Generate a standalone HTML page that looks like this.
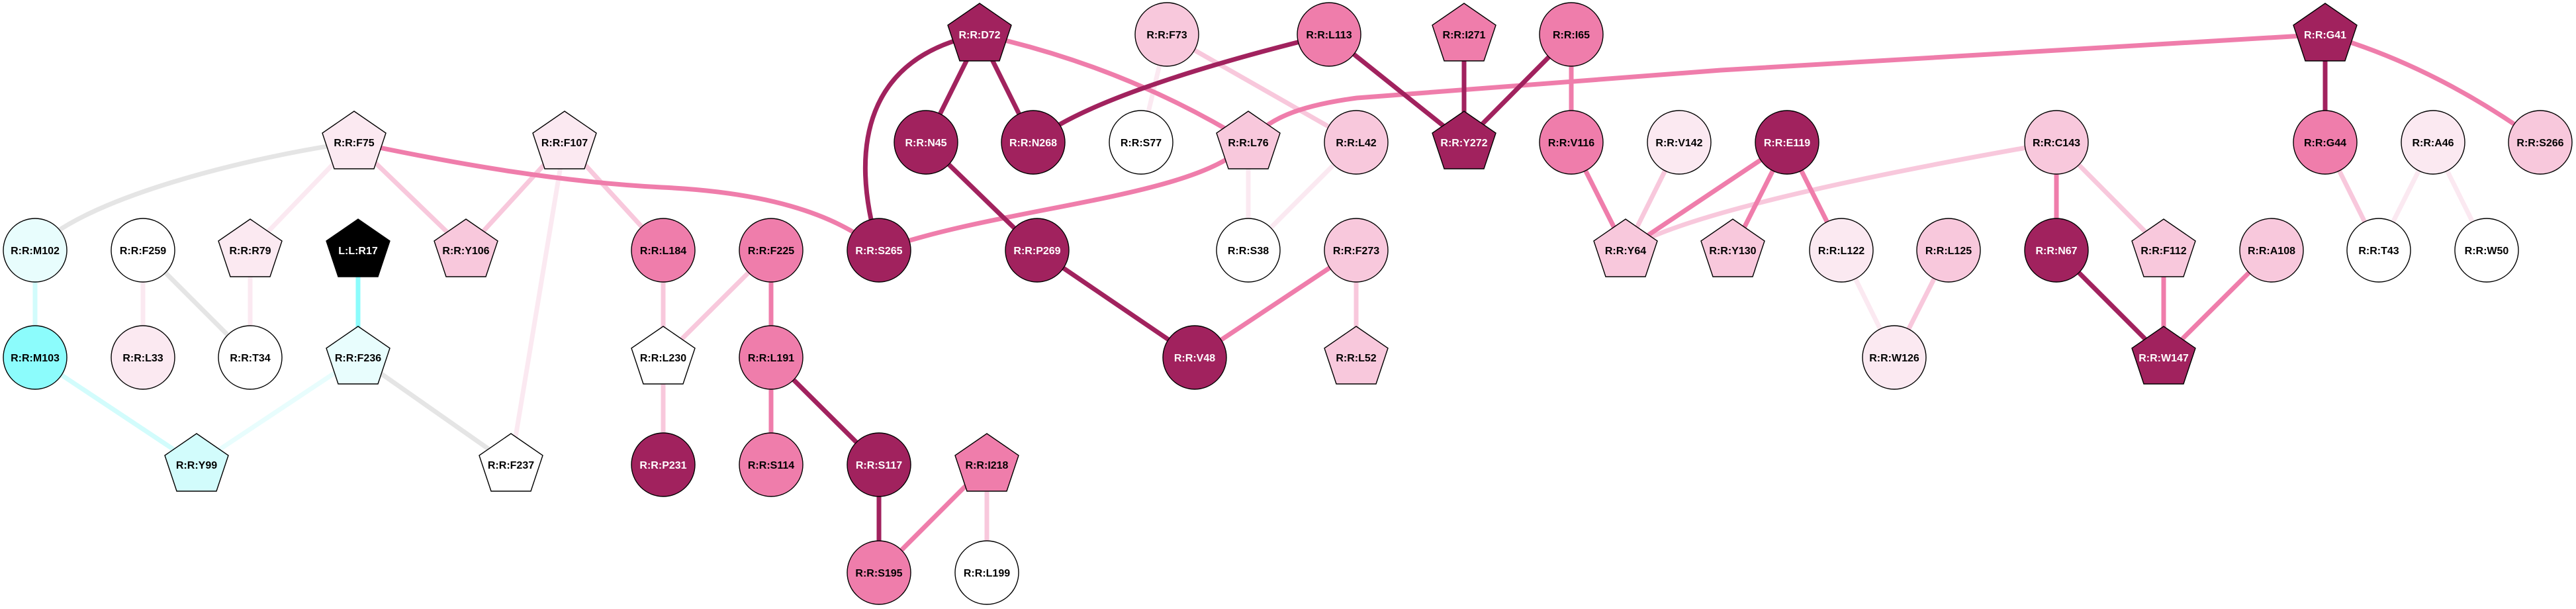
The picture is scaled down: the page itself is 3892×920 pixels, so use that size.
<!DOCTYPE html>
<html><head><meta charset="utf-8"><style>
html,body{margin:0;padding:0;background:#fff;}
svg{display:block;}
text{font-family:"Liberation Sans",Arial,sans-serif;font-weight:bold;font-size:16px;text-anchor:middle;}
</style></head><body>
<svg width="3892" height="920" viewBox="0 0 3892 920" xmlns="http://www.w3.org/2000/svg">
<defs>
<polygon id="pent" points="0,-47 48,-14 30,40 -30,40 -48,-14"/>
</defs>
<g fill="none" stroke-width="7">
<!-- grey -->
<path d="M535,215 C380,236 120,300 53,378" stroke="#e5e5e5"/>
<line x1="216" y1="378" x2="378" y2="540" stroke="#e5e5e5"/>
<line x1="541" y1="540" x2="772" y2="702" stroke="#e5e5e5"/>
<!-- cyan -->
<line x1="53" y1="378" x2="53" y2="540" stroke="#d2fcfc"/>
<line x1="541" y1="378" x2="541" y2="540" stroke="#8cfcfc"/>
<line x1="53" y1="540" x2="297" y2="702" stroke="#d2fcfc"/>
<line x1="541" y1="540" x2="297" y2="702" stroke="#e8fdfd"/>
<!-- very light pink -->
<line x1="535" y1="215" x2="378" y2="378" stroke="#fbe9f1"/>
<line x1="216" y1="378" x2="216" y2="540" stroke="#fbe9f1"/>
<line x1="378" y1="378" x2="378" y2="540" stroke="#fbe9f1"/>
<line x1="853" y1="215" x2="772" y2="702" stroke="#fbe9f1"/>
<line x1="1763" y1="52" x2="1724" y2="215" stroke="#fbe9f1"/>
<line x1="1886" y1="215" x2="1886" y2="378" stroke="#fbe9f1"/>
<line x1="1886" y1="378" x2="2049" y2="215" stroke="#fbe9f1"/>
<line x1="2782" y1="378" x2="2862" y2="540" stroke="#fbe9f1"/>
<line x1="3676" y1="215" x2="3594" y2="378" stroke="#fbe9f1"/>
<line x1="3676" y1="215" x2="3757" y2="378" stroke="#fbe9f1"/>
<!-- light pink -->
<line x1="535" y1="215" x2="704" y2="378" stroke="#f8c8dc"/>
<line x1="853" y1="215" x2="704" y2="378" stroke="#f8c8dc"/>
<line x1="853" y1="215" x2="1002" y2="378" stroke="#f8c8dc"/>
<line x1="1002" y1="378" x2="1002" y2="540" stroke="#f8c8dc"/>
<line x1="1165" y1="378" x2="1002" y2="540" stroke="#f8c8dc"/>
<line x1="1002" y1="540" x2="1002" y2="702" stroke="#f8c8dc"/>
<line x1="1491" y1="702" x2="1491" y2="865" stroke="#f8c8dc"/>
<line x1="1763" y1="52" x2="2049" y2="215" stroke="#f8c8dc"/>
<line x1="2049" y1="378" x2="2049" y2="540" stroke="#f8c8dc"/>
<line x1="2537" y1="215" x2="2456" y2="378" stroke="#f8c8dc"/>
<path d="M2456,378 Q2560,310 3107,215" stroke="#f8c8dc"/>
<line x1="2944" y1="378" x2="2862" y2="540" stroke="#f8c8dc"/>
<line x1="3107" y1="215" x2="3269" y2="378" stroke="#f8c8dc"/>
<line x1="3513" y1="215" x2="3594" y2="378" stroke="#f8c8dc"/>
<!-- medium pink -->
<path d="M535,215 C700,250 850,275 1000,283 C1150,290 1260,320 1328,378" stroke="#ef7dab"/>
<line x1="1165" y1="378" x2="1165" y2="540" stroke="#ef7dab"/>
<line x1="1165" y1="540" x2="1165" y2="702" stroke="#ef7dab"/>
<path d="M1480,52 Q1700,100 1886,215" stroke="#ef7dab"/>
<path d="M1886,215 C1810,300 1520,310 1328,378" stroke="#ef7dab"/>
<path d="M1886,215 C1915,180 1960,160 2050,148 L2600,106 L3513,52" stroke="#ef7dab"/>
<line x1="1805" y1="540" x2="2049" y2="378" stroke="#ef7dab"/>
<line x1="1491" y1="702" x2="1328" y2="865" stroke="#ef7dab"/>
<line x1="2374" y1="52" x2="2374" y2="215" stroke="#ef7dab"/>
<line x1="2374" y1="215" x2="2456" y2="378" stroke="#ef7dab"/>
<line x1="2456" y1="378" x2="2700" y2="215" stroke="#ef7dab"/>
<line x1="2700" y1="215" x2="2618" y2="378" stroke="#ef7dab"/>
<line x1="2700" y1="215" x2="2782" y2="378" stroke="#ef7dab"/>
<line x1="3107" y1="215" x2="3107" y2="378" stroke="#ef7dab"/>
<line x1="3269" y1="378" x2="3269" y2="540" stroke="#ef7dab"/>
<line x1="3432" y1="378" x2="3269" y2="540" stroke="#ef7dab"/>
<path d="M3513,52 Q3680,100 3838,215" stroke="#ef7dab"/>
<!-- dark -->
<line x1="1165" y1="540" x2="1328" y2="702" stroke="#a1225e"/>
<line x1="1328" y1="702" x2="1328" y2="865" stroke="#a1225e"/>
<path d="M1480,52 C1310,85 1280,220 1328,378" stroke="#a1225e"/>
<line x1="1480" y1="52" x2="1399" y2="215" stroke="#a1225e"/>
<line x1="1480" y1="52" x2="1561" y2="215" stroke="#a1225e"/>
<line x1="1399" y1="215" x2="1567" y2="378" stroke="#a1225e"/>
<line x1="1567" y1="378" x2="1805" y2="540" stroke="#a1225e"/>
<path d="M1561,215 Q1650,140 2008,52" stroke="#a1225e"/>
<line x1="2008" y1="52" x2="2212" y2="215" stroke="#a1225e"/>
<line x1="2212" y1="52" x2="2212" y2="215" stroke="#a1225e"/>
<line x1="2374" y1="52" x2="2212" y2="215" stroke="#a1225e"/>
<line x1="3107" y1="378" x2="3269" y2="540" stroke="#a1225e"/>
<line x1="3513" y1="52" x2="3513" y2="215" stroke="#a1225e"/>
</g>
<g stroke="#000" stroke-width="1.4">
<!-- circles -->
<circle cx="53" cy="378" r="48" fill="#e8fdfd"/>
<circle cx="216" cy="378" r="48" fill="#ffffff"/>
<circle cx="53" cy="540" r="48" fill="#8cfcfc"/>
<circle cx="216" cy="540" r="48" fill="#fbe9f1"/>
<circle cx="378" cy="540" r="48" fill="#ffffff"/>
<circle cx="1002" cy="378" r="48" fill="#ef7dab"/>
<circle cx="1165" cy="378" r="48" fill="#ef7dab"/>
<circle cx="1165" cy="540" r="48" fill="#ef7dab"/>
<circle cx="1002" cy="702" r="48" fill="#a1225e"/>
<circle cx="1165" cy="702" r="48" fill="#ef7dab"/>
<circle cx="1763" cy="52" r="48" fill="#f8c8dc"/>
<circle cx="1399" cy="215" r="48" fill="#a1225e"/>
<circle cx="1561" cy="215" r="48" fill="#a1225e"/>
<circle cx="1724" cy="215" r="48" fill="#ffffff"/>
<circle cx="1328" cy="378" r="48" fill="#a1225e"/>
<circle cx="1567" cy="378" r="48" fill="#a1225e"/>
<circle cx="1886" cy="378" r="48" fill="#ffffff"/>
<circle cx="1805" cy="540" r="48" fill="#a1225e"/>
<circle cx="1328" cy="702" r="48" fill="#a1225e"/>
<circle cx="1328" cy="865" r="48" fill="#ef7dab"/>
<circle cx="1491" cy="865" r="48" fill="#ffffff"/>
<circle cx="2008" cy="52" r="48" fill="#ef7dab"/>
<circle cx="2374" cy="52" r="48" fill="#ef7dab"/>
<circle cx="2049" cy="215" r="48" fill="#f8c8dc"/>
<circle cx="2374" cy="215" r="48" fill="#ef7dab"/>
<circle cx="2537" cy="215" r="48" fill="#fbe9f1"/>
<circle cx="2049" cy="378" r="48" fill="#f8c8dc"/>
<circle cx="2700" cy="215" r="48" fill="#a1225e"/>
<circle cx="2782" cy="378" r="48" fill="#fbe9f1"/>
<circle cx="2944" cy="378" r="48" fill="#f8c8dc"/>
<circle cx="2862" cy="540" r="48" fill="#fbe9f1"/>
<circle cx="3107" cy="215" r="48" fill="#f8c8dc"/>
<circle cx="3107" cy="378" r="48" fill="#a1225e"/>
<circle cx="3513" cy="215" r="48" fill="#ef7dab"/>
<circle cx="3676" cy="215" r="48" fill="#fbe9f1"/>
<circle cx="3838" cy="215" r="48" fill="#f8c8dc"/>
<circle cx="3432" cy="378" r="48" fill="#f8c8dc"/>
<circle cx="3594" cy="378" r="48" fill="#ffffff"/>
<circle cx="3757" cy="378" r="48" fill="#ffffff"/>
<!-- pentagons -->
<use href="#pent" x="535" y="215" fill="#fbe9f1"/>
<use href="#pent" x="378" y="378" fill="#fbe9f1"/>
<use href="#pent" x="541" y="378" fill="#000000"/>
<use href="#pent" x="541" y="540" fill="#e8fdfd"/>
<use href="#pent" x="297" y="702" fill="#d2fcfc"/>
<use href="#pent" x="853" y="215" fill="#fbe9f1"/>
<use href="#pent" x="704" y="378" fill="#f8c8dc"/>
<use href="#pent" x="1002" y="540" fill="#ffffff"/>
<use href="#pent" x="772" y="702" fill="#ffffff"/>
<use href="#pent" x="1480" y="52" fill="#a1225e"/>
<use href="#pent" x="1886" y="215" fill="#f8c8dc"/>
<use href="#pent" x="1491" y="702" fill="#ef7dab"/>
<use href="#pent" x="2212" y="52" fill="#ef7dab"/>
<use href="#pent" x="2212" y="215" fill="#a1225e"/>
<use href="#pent" x="2456" y="378" fill="#f8c8dc"/>
<use href="#pent" x="2049" y="540" fill="#f8c8dc"/>
<use href="#pent" x="2618" y="378" fill="#f8c8dc"/>
<use href="#pent" x="3269" y="378" fill="#f8c8dc"/>
<use href="#pent" x="3269" y="540" fill="#a1225e"/>
<use href="#pent" x="3513" y="52" fill="#a1225e"/>
</g>
<g fill="#000">
<text x="535" y="221">R:R:F75</text>
<text x="53" y="384">R:R:M102</text>
<text x="216" y="384">R:R:F259</text>
<text x="378" y="384">R:R:R79</text>
<text x="53" y="546">R:R:M103</text>
<text x="216" y="546">R:R:L33</text>
<text x="378" y="546">R:R:T34</text>
<text x="541" y="546">R:R:F236</text>
<text x="297" y="708">R:R:Y99</text>
<text x="853" y="221">R:R:F107</text>
<text x="704" y="384">R:R:Y106</text>
<text x="1002" y="384">R:R:L184</text>
<text x="1165" y="384">R:R:F225</text>
<text x="1002" y="546">R:R:L230</text>
<text x="1165" y="546">R:R:L191</text>
<text x="772" y="708">R:R:F237</text>
<text x="1165" y="708">R:R:S114</text>
<text x="1763" y="58">R:R:F73</text>
<text x="1724" y="221">R:R:S77</text>
<text x="1886" y="221">R:R:L76</text>
<text x="1886" y="384">R:R:S38</text>
<text x="1491" y="708">R:R:I218</text>
<text x="1328" y="871">R:R:S195</text>
<text x="1491" y="871">R:R:L199</text>
<text x="2008" y="58">R:R:L113</text>
<text x="2212" y="58">R:R:I271</text>
<text x="2374" y="58">R:R:I65</text>
<text x="2049" y="221">R:R:L42</text>
<text x="2374" y="221">R:R:V116</text>
<text x="2537" y="221">R:R:V142</text>
<text x="2049" y="384">R:R:F273</text>
<text x="2456" y="384">R:R:Y64</text>
<text x="2049" y="546">R:R:L52</text>
<text x="2618" y="384">R:R:Y130</text>
<text x="2782" y="384">R:R:L122</text>
<text x="2944" y="384">R:R:L125</text>
<text x="2862" y="546">R:R:W126</text>
<text x="3107" y="221">R:R:C143</text>
<text x="3269" y="384">R:R:F112</text>
<text x="3513" y="221">R:R:G44</text>
<text x="3676" y="221">R:R:A46</text>
<text x="3838" y="221">R:R:S266</text>
<text x="3432" y="384">R:R:A108</text>
<text x="3594" y="384">R:R:T43</text>
<text x="3757" y="384">R:R:W50</text>
</g>
<g fill="#ffffff">
<text x="541" y="384">L:L:R17</text>
<text x="1002" y="708">R:R:P231</text>
<text x="1480" y="58">R:R:D72</text>
<text x="1399" y="221">R:R:N45</text>
<text x="1561" y="221">R:R:N268</text>
<text x="1328" y="384">R:R:S265</text>
<text x="1567" y="384">R:R:P269</text>
<text x="1805" y="546">R:R:V48</text>
<text x="1328" y="708">R:R:S117</text>
<text x="2212" y="221">R:R:Y272</text>
<text x="2700" y="221">R:R:E119</text>
<text x="3107" y="384">R:R:N67</text>
<text x="3269" y="546">R:R:W147</text>
<text x="3513" y="58">R:R:G41</text>
</g>
</svg>
</body></html>
